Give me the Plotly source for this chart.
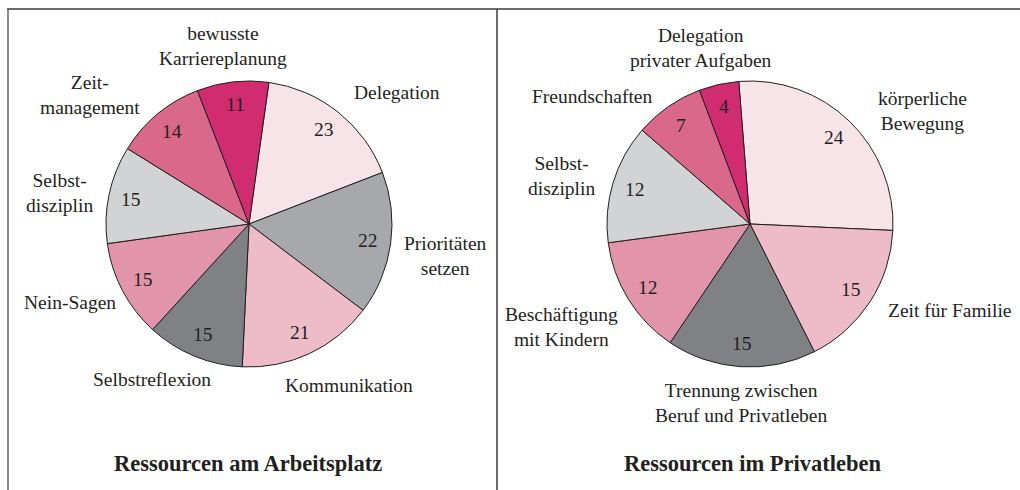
import math
import plotly.graph_objects as go

# ---------------- data ----------------
work_labels = ["Delegation", "Prioritäten<br>setzen", "Kommunikation", "Selbstreflexion",
               "Nein-Sagen", "Selbst-<br>disziplin", "Zeit-<br>management",
               "bewusste<br>Karriereplanung"]
work_values = [23, 22, 21, 15, 15, 15, 14, 11]

private_labels = ["körperliche<br>Bewegung", "Zeit für Familie",
                  "Trennung zwischen<br>Beruf und Privatleben",
                  "Beschäftigung<br>mit Kindern", "Selbst-<br>disziplin",
                  "Freundschaften", "Delegation<br>privater Aufgaben"]
private_values = [24, 15, 15, 12, 12, 7, 4]

titles = ["Ressourcen am Arbeitsplatz", "Ressourcen im Privatleben"]

# ---------------- style ----------------
W, H = 1020, 490
FONT = "Liberation Serif"
TXT = "#231f20"
work_colors = ["#f6e4e8", "#a7a8ab", "#edbcc8", "#808184", "#e295aa", "#d2d3d5", "#d9688b", "#d12c70"]
private_colors = ["#f6e4e8", "#edbcc8", "#808184", "#e295aa", "#d2d3d5", "#d9688b", "#d12c70"]

# pie geometry (pixels)
pies = [
    dict(cx=249, cy=224, r=143, rot=8.0, labels=work_labels, values=work_values,
         colors=work_colors,
         # (angle shift deg, distance factor) for each outside label
         lab=[(10, 1.385), (1.3, 1.39), (-6.7, 1.33), (9.3, 1.28), (4, 1.37),
              (-2.6, 1.34), (-11.2, 1.43), (-1.7, 1.26)],
         title_x=248),
    dict(cx=750, cy=224, r=143, rot=-4.5, labels=private_labels, values=private_values,
         colors=private_colors,
         lab=[(12.8, 1.44), (-9.5, 1.52), (-0.7, 1.25), (3.2, 1.5), (-2.5, 1.36),
              (-16.2, 1.42), (-2.9, 1.28)],
         title_x=753),
]
VAL_R = 0.84
TITLE_Y = 463
FS = 19.5

fig = go.Figure()
annotations = []

for p in pies:
    cx, cy, r = p["cx"], p["cy"], p["r"]
    fig.add_trace(go.Pie(
        labels=[l.replace("<br>", " ") for l in p["labels"]],
        values=p["values"],
        sort=False, direction="clockwise", rotation=p["rot"],
        marker=dict(colors=p["colors"], line=dict(color="#231f20", width=1)),
        textinfo="none", hoverinfo="label+value", showlegend=False,
        domain=dict(x=[(cx - r) / W, (cx + r) / W],
                    y=[1 - (cy + r) / H, 1 - (cy - r) / H]),
    ))
    total = sum(p["values"])
    start = p["rot"]
    for lab, v, (dang, dist) in zip(p["labels"], p["values"], p["lab"]):
        span = v / total * 360
        mid = start + span / 2
        start += span
        a = math.radians(mid)
        vx = cx + VAL_R * r * math.sin(a)
        vy = cy - VAL_R * r * math.cos(a)
        annotations.append(dict(x=vx / W, y=1 - vy / H, xref="paper", yref="paper",
                                text=str(v), showarrow=False, xanchor="center", yanchor="middle",
                                font=dict(family=FONT, size=FS, color=TXT)))
        a2 = math.radians(mid + dang)
        lx = cx + dist * r * math.sin(a2)
        ly = cy - dist * r * math.cos(a2)
        annotations.append(dict(x=lx / W, y=1 - ly / H, xref="paper", yref="paper",
                                text=lab, showarrow=False, xanchor="center", yanchor="middle",
                                align="center",
                                font=dict(family=FONT, size=FS, color=TXT)))

for t, p in zip(titles, pies):
    annotations.append(dict(x=p["title_x"] / W, y=1 - TITLE_Y / H, xref="paper", yref="paper",
                            text="<b>" + t + "</b>", showarrow=False, xanchor="center",
                            yanchor="middle",
                            font=dict(family=FONT, size=22.5, color=TXT)))

frame = "#3a3a3a"
shapes = [
    dict(type="line", xref="paper", yref="paper", x0=7 / W, x1=1, y0=1 - 9 / H, y1=1 - 9 / H,
         line=dict(color=frame, width=1.5)),
    dict(type="line", xref="paper", yref="paper", x0=8 / W, x1=8 / W, y0=1 - 9 / H, y1=0,
         line=dict(color="#666666", width=1.5)),
    dict(type="line", xref="paper", yref="paper", x0=497 / W, x1=497 / W, y0=1 - 9 / H, y1=0,
         line=dict(color=frame, width=1.5)),
]

fig.update_layout(
    width=W, height=H,
    margin=dict(l=0, r=0, t=0, b=0),
    paper_bgcolor="white", plot_bgcolor="white",
    annotations=annotations, shapes=shapes,
    font=dict(family=FONT, color=TXT),
)

fig.write_html("out.html", config={"displayModeBar": False})

# remove the default 8px body margin so the figure fills the window exactly
with open("out.html", encoding="utf-8") as f:
    html = f.read()
html = html.replace("<head>", "<head><style>html,body{margin:0;padding:0;overflow:hidden;}</style>", 1)
with open("out.html", "w", encoding="utf-8") as f:
    f.write(html)
